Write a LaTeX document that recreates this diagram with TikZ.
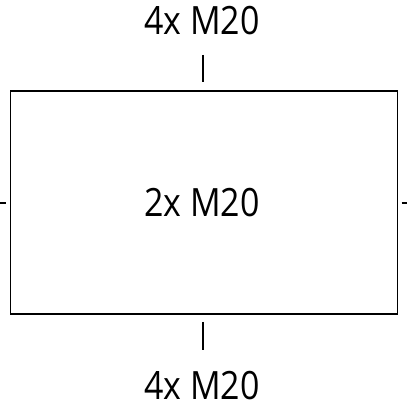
\documentclass[tikz,border=0pt]{standalone}
\usepackage{fontspec}
\setmainfont{Open Sans}[FakeStretch=0.87]
\begin{document}
\begin{tikzpicture}[x=1pt,y=1pt,
  thread/.style={font=\fontsize{39}{40}\selectfont, inner sep=0pt, anchor=base},
  tickline/.style={line width=1.8pt}]

	  \useasboundingbox (0,0) rectangle (407,407);

	  %----------------------------------------------------------------
	  \node [draw, line width=1.6pt, minimum width=387pt, minimum height=223pt, inner sep=0pt] (box) at (203.8,204.5) {};
	  \node [thread] (mid) at (202,190) {2x M20};

	  \node [thread] (top) at (202,372) {4x M20};
	  \node [thread] (bot) at (202,8) {4x M20};

	  %----------------------------------------------------------------
	  \coordinate (tA) at (203,352);
	  \coordinate (tB) at (203,325);
	  \coordinate (bA) at (203,85);
	  \coordinate (bB) at (203,57);
	  \coordinate (lA) at (0,204.3);
	  \coordinate (lB) at (5.5,204.3);
	  \coordinate (rA) at (401.5,204.3);
	  \coordinate (rB) at (407,204.3);

	  \draw [tickline] (tA) -- (tB);
	  \draw [tickline] (bA) -- (bB);
	  \draw [tickline] (lA) -- (lB);
	  \draw [tickline] (rA) -- (rB);

\end{tikzpicture}
\end{document}
